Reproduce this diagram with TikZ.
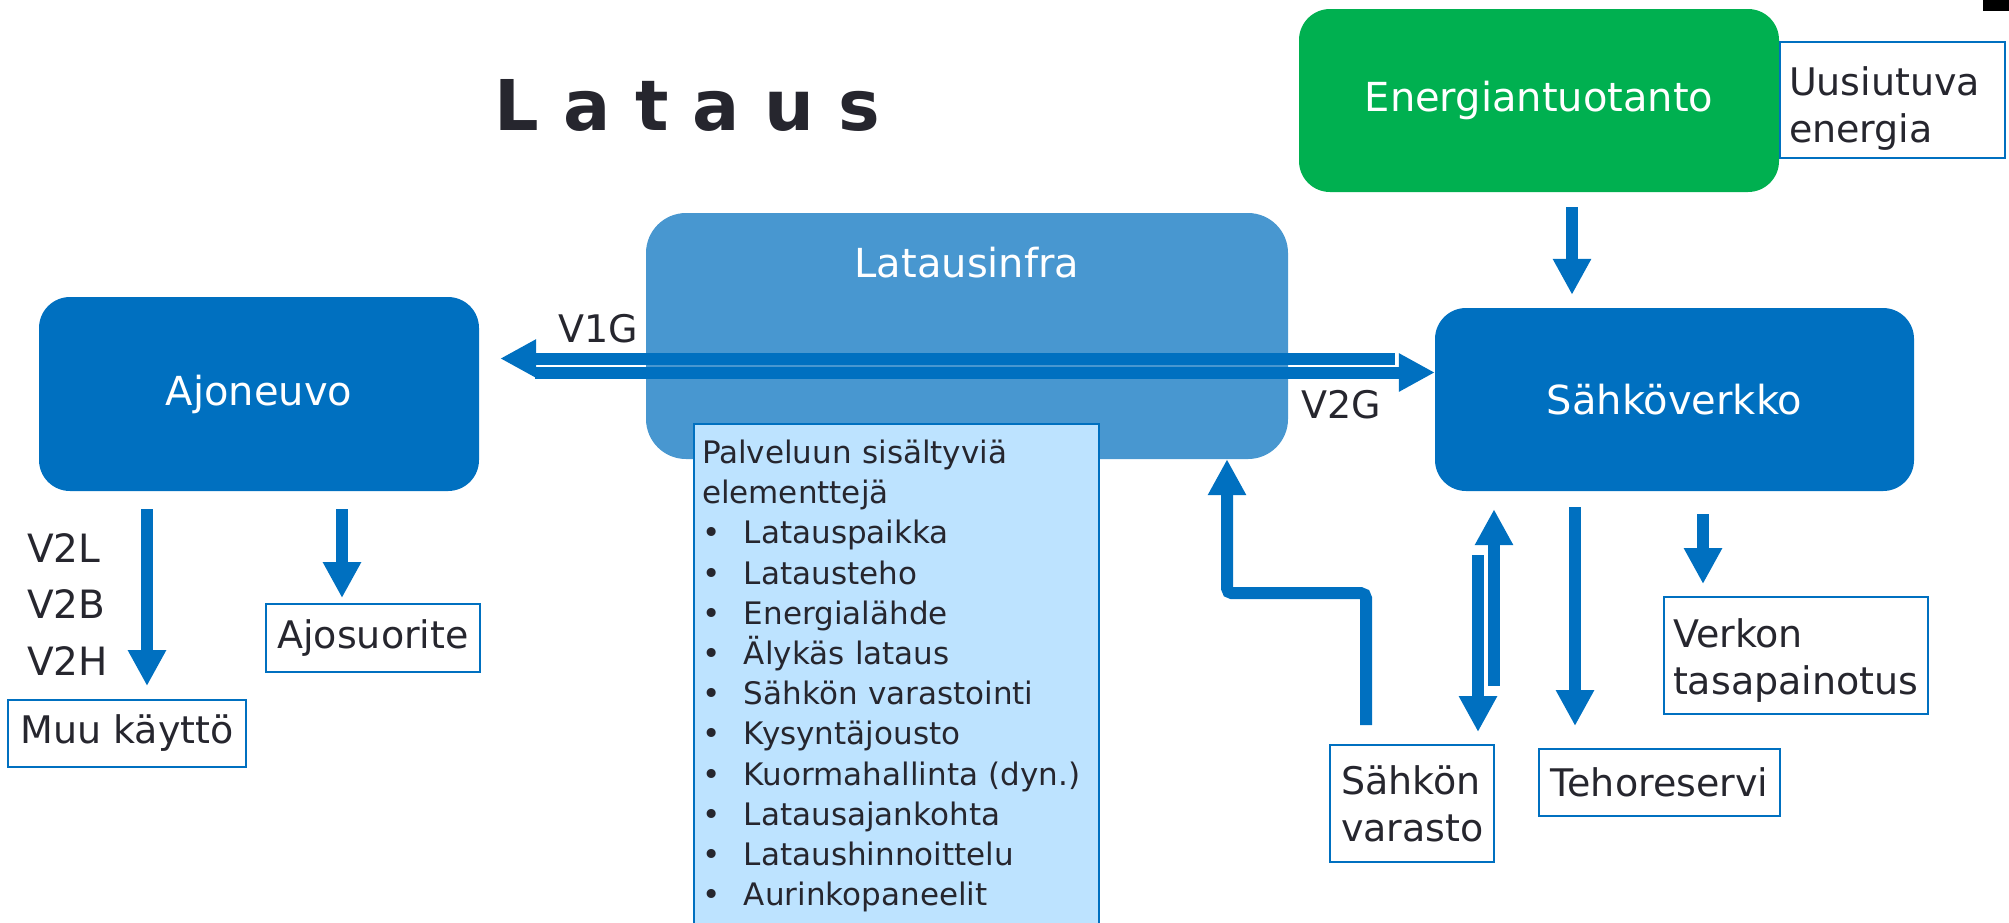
\documentclass[tikz,border=0pt]{standalone}
\usepackage{fontspec}
\setmainfont{DejaVu Sans}
\usetikzlibrary{arrows.meta}
\definecolor{blu}{HTML}{0070C0}
\definecolor{infra}{HTML}{4897D0}
\definecolor{vihrea}{HTML}{00B050}
\definecolor{vaalea}{HTML}{BDE3FF}
\definecolor{ink}{HTML}{26262E}

\begin{document}
\begin{tikzpicture}[x=1pt,y=-1pt,every node/.style={text=ink},
	iso/.style={rounded corners=31pt,fill=blu,text=white,minimum width=440pt,minimum height=194pt,font=\fontsize{40}{48}\selectfont},
	tieto/.style={draw=blu,line width=2pt,inner sep=0pt,font=\fontsize{38}{47}\selectfont},
	nuoli/.style={draw=blu,line width=12pt,-{Triangle[length=36pt,width=36pt]}}]
			\useasboundingbox (0,0) rectangle (2009,922);
			\fill[black] (1983,0) rectangle (2009,11);
			\node[anchor=base west,font=\fontsize{70}{84}\selectfont\bfseries] (t) at (491,130) {L a t a u s};
			\node[iso,fill=infra,minimum width=642pt,minimum height=246pt,rounded corners=40pt] (li) at (967,336) {};
			\node[text=white,font=\fontsize{40}{48}\selectfont] (lt) at (967,263) {Latausinfra};
			\node[iso] (aj) at (259,394) {Ajoneuvo};
			\node[iso,minimum width=479pt,minimum height=183pt] (sv) at (1674.5,399.5) {Sähköverkko};
			\node[iso,fill=vihrea,minimum width=480pt,minimum height=183pt] (en) at (1539,100.5) {Energiantuotanto};
			\node[tieto,text width=207pt,inner xsep=9pt,minimum height=116pt,align=left] (uu) at (1892.5,100) {\rule{0pt}{45pt}Uusiutuva\\energia};
			\node[tieto,minimum width=238pt,minimum height=67pt] (mk) at (127,733.5) {Muu käyttö};
			\node[tieto,minimum width=214pt,minimum height=68pt] (ajs) at (373,638) {Ajosuorite};
			\node[tieto,text width=142pt,inner xsep=11pt,minimum height=117pt,align=left] (va) at (1412,803.5) {Sähkön\\varasto};
			\node[tieto,minimum width=241pt,minimum height=67pt] (tr) at (1659.5,782.5) {Tehoreservi};
			\node[tieto,text width=246pt,inner xsep=9pt,minimum height=117pt,align=left] (vt) at (1796,655.5) {\rule{0pt}{39pt}Verkon\\tasapainotus};
			\node[anchor=base west,font=\fontsize{38}{47}\selectfont] (v1) at (555,342) {V1G};
			\node[anchor=base west,font=\fontsize{38}{47}\selectfont] (v2) at (1298,418) {V2G};
			\node[anchor=north west,inner sep=0pt,align=left,font=\fontsize{39}{56.5}\selectfont] (vl) at (27,533) {V2L\\V2B\\V2H};
			\coordinate (y1) at (0,358.5);
			\coordinate (y2) at (0,372.5);
			\draw[nuoli,shorten <=40pt,shorten >=21pt] (sv.west |- y1) -- (aj.east |- y1);
			\draw[nuoli,shorten <=56pt] (aj.east |- y2) -- (sv.west |- y2);
			\coordinate (a1) at ([xshift=-112pt]aj.south);
			\coordinate (a2) at ([xshift=83pt]aj.south);
			\draw[nuoli,shorten <=18pt,shorten >=13pt] (a1) -- (a1 |- mk.north);
			\draw[nuoli,shorten <=18pt,shorten >=5pt] (a2) -- (a2 |- ajs.north);
			\coordinate (e1) at ([xshift=33pt]en.south);
			\draw[nuoli,shorten <=15pt,shorten >=13pt] (e1) -- (e1 |- sv.north);
			\coordinate (s1) at ([xshift=-180.5pt]sv.south);
			\coordinate (s2) at ([xshift=-196.5pt]sv.south);
			\coordinate (s3) at ([xshift=-99.5pt]sv.south);
			\coordinate (s4) at ([xshift=28.5pt]sv.south);
			\draw[nuoli,shorten <=58pt,shorten >=18pt] (s1 |- va.north) -- (s1);
			\draw[nuoli,shorten <=64pt,shorten >=12pt] (s2) -- (s2 |- va.north);
			\draw[nuoli,shorten <=16pt,shorten >=22pt] (s3) -- (s3 |- tr.north);
			\draw[nuoli,shorten <=23pt,shorten >=12pt] (s4) -- (s4 |- vt.north);
			\coordinate (l1) at ([xshift=-46pt]va.north);
			\coordinate (l2) at ([xshift=260pt]li.south);
			\draw[nuoli,rounded corners=5pt,shorten <=19pt] (l1) |- ([yshift=-134pt]l2) -- (l2);
			\node[draw=blu,line width=2pt,fill=vaalea,anchor=north west,inner xsep=8pt,inner ysep=16pt,text width=389pt,align=left,font=\fontsize{31}{40.2}\selectfont] (pv) at (693,423) {Palveluun sisältyviä\\elementtejä\\
				\makebox[42pt][l]{•}Latauspaikka\\
				\makebox[42pt][l]{•}Latausteho\\
				\makebox[42pt][l]{•}Energialähde\\
				\makebox[42pt][l]{•}Älykäs lataus\\
				\makebox[42pt][l]{•}Sähkön varastointi\\
				\makebox[42pt][l]{•}Kysyntäjousto\\
				\makebox[42pt][l]{•}Kuormahallinta (dyn.)\\
				\makebox[42pt][l]{•}Latausajankohta\\
				\makebox[42pt][l]{•}Lataushinnoittelu\\
				\makebox[42pt][l]{•}Aurinkopaneelit};
		\end{tikzpicture}
\end{document}
